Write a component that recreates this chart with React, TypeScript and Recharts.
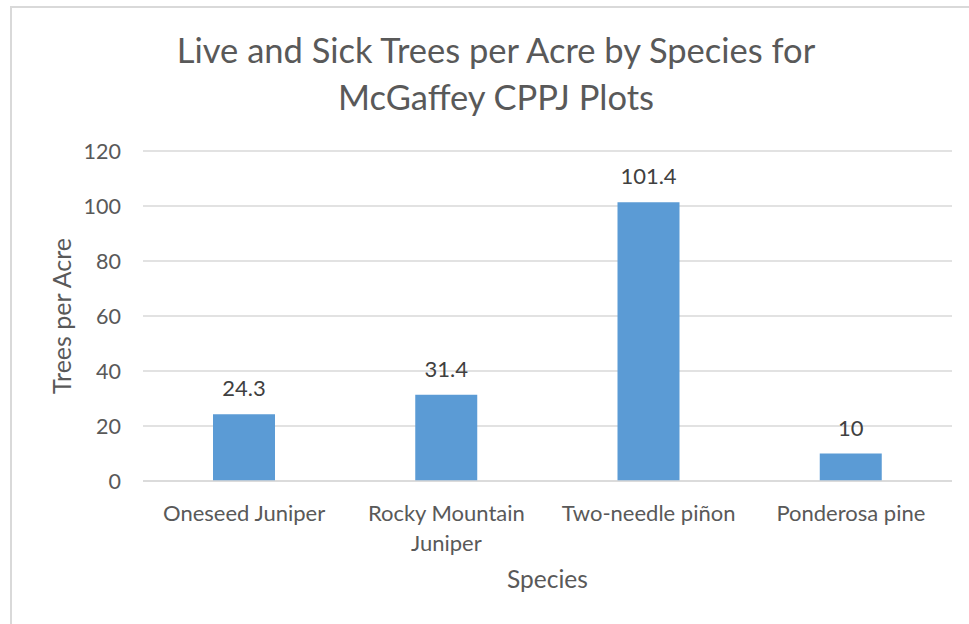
import { BarChart, Bar, XAxis, YAxis, CartesianGrid, LabelList } from "recharts";

const species = ["Oneseed Juniper", "Rocky Mountain Juniper", "Two-needle piñon", "Ponderosa pine"];
const treesPerAcre = [24.3, 31.4, 101.4, 10];
const yTicks = [0, 20, 40, 60, 80, 100, 120];
const titleLines = ["Live and Sick Trees per Acre by Species for", "McGaffey CPPJ Plots"];

const FONT = "Lato, 'Open Sans', sans-serif";
const TEXT = "#595959";
const GRID = "#d9d9d9";
const BAR = "#5b9bd5";

const data = species.map((name, i) => ({ name, value: treesPerAcre[i] }));

// greedy wrap by character count, like Excel breaking long category names
function wrapLabel(label: string, maxChars = 16) {
  const lines: string[] = [];
  let cur = "";
  for (const w of label.split(" ")) {
    const next = cur ? `${cur} ${w}` : w;
    if (next.length > maxChars && cur) {
      lines.push(cur);
      cur = w;
    } else {
      cur = next;
    }
  }
  if (cur) lines.push(cur);
  return lines;
}

function SpeciesTick(props: any) {
  const { x, y, payload } = props;
  const lines = wrapLabel(String(payload.value));
  return (
    <text x={x} y={y} textAnchor="middle" fill={TEXT} fontSize={22} fontFamily={FONT}>
      {lines.map((l, i) => (
        <tspan key={l} x={x} dy={i === 0 ? "0.71em" : 30}>
          {l}
        </tspan>
      ))}
    </text>
  );
}

export default function App() {
  return (
    <div
      style={{
        position: "absolute",
        left: 10,
        top: 6,
        width: 990,
        height: 640,
        border: `2px solid ${GRID}`,
        background: "#fff",
        fontFamily: FONT,
      }}
    >
      <svg width={960} height={120} style={{ position: "absolute", left: 0, top: 0 }}>
        {titleLines.map((t, i) => (
          <text
            key={t}
            x={484}
            y={55 + i * 47}
            textAnchor="middle"
            fontSize={34.5}
            fill={TEXT}
            fontFamily={FONT}
          >
            {t}
          </text>
        ))}
      </svg>
      <BarChart
        width={960}
        height={620}
        data={data}
        margin={{ top: 143, right: 20, left: 20, bottom: 37 }}
        style={{ position: "absolute", left: 0, top: 0 }}
      >
        <CartesianGrid vertical={false} stroke={GRID} strokeWidth={1.5} />
        <XAxis
          dataKey="name"
          height={110}
          axisLine={{ stroke: GRID, strokeWidth: 1.5 }}
          tickLine={false}
          tickSize={0}
          tickMargin={24}
          interval={0}
          tick={(p: any) => <SpeciesTick {...p} />}
          label={{ value: "Species", position: "insideBottom", offset: 3, fill: TEXT, fontSize: 24.5, fontFamily: FONT }}
        />
        <YAxis
          width={111}
          domain={[0, 120]}
          ticks={yTicks}
          axisLine={false}
          tickLine={false}
          tickSize={0}
          tickMargin={22}
          tick={{ fill: TEXT, fontSize: 21.5, fontFamily: FONT }}
          label={{
            value: "Trees per Acre",
            angle: -90,
            position: "insideLeft",
            offset: 30,
            fill: TEXT,
            fontSize: 25,
            fontFamily: FONT,
            style: { textAnchor: "middle" },
          }}
        />
        <Bar dataKey="value" fill={BAR} barSize={62} isAnimationActive={false}>
          <LabelList dataKey="value" position="top" offset={18} fill="#404040" fontSize={22} fontFamily={FONT} />
        </Bar>
      </BarChart>
    </div>
  );
}
